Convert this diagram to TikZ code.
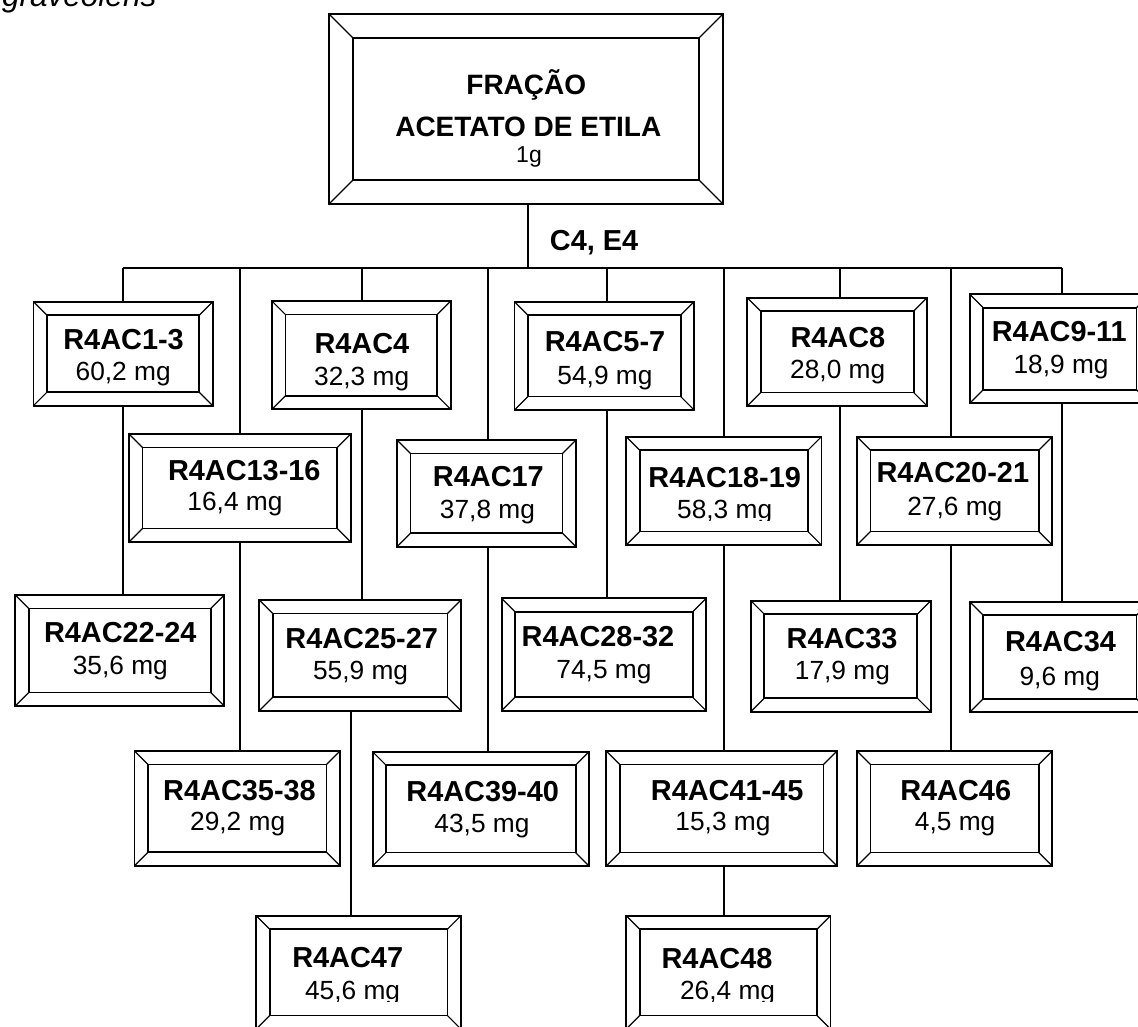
\documentclass[tikz,border=0pt]{standalone}
\usepackage{fontspec}
\setmainfont{Liberation Sans}
\begin{document}
\begin{tikzpicture}[x=1pt,y=-1pt,
  frame/.style={draw, line width=1.8pt, inner sep=0pt, outer sep=0pt},
  bevel/.style={line width=1.2pt},
  link/.style={line width=2pt},
  nm/.style={font=\fontsize{28.9}{30}\selectfont\bfseries, inner sep=0pt, anchor=base},
  ms/.style={font=\fontsize{26.3}{28}\selectfont, inner sep=0pt, anchor=base}]

% page area
\fill[white] (0,0) rectangle (1138,1026);
\useasboundingbox (0,0) rectangle (1138,1026);

% bevelled frame: [bevel] name, x1, y1, x2, y2
\newcommand\bevbox[6][13.5]{%
  \node[frame, minimum width={#5-#3}, minimum height={#6-#4}] (#2) at ({(#3+#5)/2},{(#4+#6)/2}) {};
  \draw[frame] ([shift={(#1,#1)}]#2.north west) rectangle ([shift={(-#1,-#1)}]#2.south east);
  \draw[bevel] (#2.north west) -- ++(#1,#1) (#2.north east) -- ++(-#1,#1)
               (#2.south west) -- ++(#1,-#1) (#2.south east) -- ++(-#1,-#1);
}

% caption fragment
\node[font=\fontsize{31.5}{32}\selectfont\itshape, inner sep=0pt, anchor=base west] (cap) at (2,6) {graveolens};

% root
\bevbox[24]{root}{329}{14}{723}{204}
\node[nm, font=\fontsize{28}{30}\selectfont\bfseries] (root-a) at (526.3,94) {FRAÇÃO};
\node[nm, font=\fontsize{28}{30}\selectfont\bfseries] (root-b) at (528.3,136) {ACETATO DE ETILA};
\node[ms, font=\fontsize{23}{24}\selectfont] (root-c) at (529,162) {1g};

% row 1
\bevbox{b13}{33.4}{301.7}{212.7}{405.7}
\bevbox{b4}{271.9}{301}{450.7}{409.3}
\bevbox{b57}{514.4}{301.7}{694.1}{410}
\bevbox{b8}{747.2}{297.7}{927.1}{406}
\bevbox{b911}{969.7}{294.3}{1150}{403.3}
% row 2
\bevbox{b1316}{129}{434}{350.8}{542}
\bevbox{b17}{397}{440}{576}{546.7}
\bevbox{b1819}{626.2}{436.7}{821.4}{545}
\bevbox{b2021}{857}{436.7}{1052.2}{545}
% row 3
\bevbox{b2224}{15.3}{595}{224.3}{706}
\bevbox{b2527}{259.2}{600}{460.9}{710.7}
\bevbox{b2832}{501.6}{598.3}{706.1}{710.7}
\bevbox{b33}{750.8}{600.7}{930.8}{711.7}
\bevbox{b34}{969.7}{601.7}{1150}{712.3}
% row 4
\bevbox{b3538}{134.5}{751}{339.9}{865.7}
\bevbox{b3940}{372.6}{751.7}{589.1}{866}
\bevbox{b4145}{606.2}{751}{837}{866}
\bevbox{b46}{857}{751}{1052.2}{866}
% row 5
\bevbox{b47}{256.3}{915.7}{460.9}{1029}
\bevbox{b48}{626.2}{915.7}{830.5}{1029}

% labels
\node[nm] (b13-n) at (123.6,349.3) {R4AC1-3};   \node[ms] (b13-m) at (123.2,380) {60,2 mg};
\node[nm] (b4-n) at (361.9,353.3) {R4AC4};      \node[ms] (b4-m) at (361.7,385) {32,3 mg};
\node[nm] (b57-n) at (605,351.7) {R4AC5-7};     \node[ms] (b57-m) at (605,384) {54,9 mg};
\node[nm] (b8-n) at (837.9,347.3) {R4AC8};      \node[ms] (b8-m) at (837.7,378.3) {28,0 mg};
\node[nm] (b911-n) at (1059.3,341.7) {R4AC9-11}; \node[ms] (b911-m) at (1061.1,373.3) {18,9 mg};

\node[nm] (b1316-n) at (244.3,480) {R4AC13-16}; \node[ms] (b1316-m) at (235,510.7) {16,4 mg};
\node[nm] (b17-n) at (488.4,486.7) {R4AC17};    \node[ms] (b17-m) at (487.5,518.3) {37,8 mg};
\node[nm] (b1819-n) at (724.7,487.3) {R4AC18-19};
\begin{scope}
  \clip (640,495) rectangle (808,520.5);
  \node[ms] (b1819-m) at (724.7,518.3) {58,3 mg};
\end{scope}
\node[nm] (b2021-n) at (952.8,482.7) {R4AC20-21}; \node[ms] (b2021-m) at (954.8,515) {27,6 mg};

\node[nm] (b2224-n) at (120.3,642.7) {R4AC22-24}; \node[ms] (b2224-m) at (120.3,674) {35,6 mg};
\node[nm] (b2527-n) at (361.7,648.3) {R4AC25-27}; \node[ms] (b2527-m) at (360.6,679.3) {55,9 mg};
\node[nm] (b2832-n) at (598,646.7) {R4AC28-32};   \node[ms] (b2832-m) at (604,678.3) {74,5 mg};
\node[nm] (b33-n) at (842.1,648.3) {R4AC33};      \node[ms] (b33-m) at (842.4,679.3) {17,9 mg};
\node[nm] (b34-n) at (1060.5,651.7) {R4AC34};     \node[ms] (b34-m) at (1059.8,685) {9,6 mg};

\node[nm] (b3538-n) at (239.5,800) {R4AC35-38};   \node[ms] (b3538-m) at (237.7,830.7) {29,2 mg};
\node[nm] (b3940-n) at (482.7,801.7) {R4AC39-40}; \node[ms] (b3940-m) at (482,832.7) {43,5 mg};
\node[nm] (b4145-n) at (727.2,800) {R4AC41-45};   \node[ms] (b4145-m) at (723,830.7) {15,3 mg};
\node[nm] (b46-n) at (955.7,800) {R4AC46};        \node[ms] (b46-m) at (955.1,830.7) {4,5 mg};

\node[nm] (b47-n) at (347.7,967.3) {R4AC47};
\node[nm] (b48-n) at (717,968.3) {R4AC48};
\begin{scope}
  \clip (270,975) rectangle (446,1001.5);
  \node[ms] (b47-m) at (352.6,999.3) {45,6 mg};
\end{scope}
\begin{scope}
  \clip (640,975) rectangle (817,1001.5);
  \node[ms] (b48-m) at (727.6,999.3) {26,4 mg};
\end{scope}

% distribution line
\coordinate (top) at (528,268);
\coordinate (busL) at (123,268);
\coordinate (busR) at (1062,268);
\coordinate (d1) at (123,268);
\coordinate (d2) at (240,268);
\coordinate (d3) at (362,268);
\coordinate (d4) at (488,268);
\coordinate (d5) at (607,268);
\coordinate (d6) at (724,268);
\coordinate (d7) at (840,268);
\coordinate (d8) at (951,268);
\coordinate (d9) at (1062,268);
\coordinate (d10) at (351,268);

\draw[link] (top |- root.south) -- (top);
\draw[link] (busL) -- (busR);
\node[nm, anchor=base west] (cond) at (549.7,250) {C4, E4};

\draw[link] (d1) -- (d1 |- b13.north);
\draw[link] (d1 |- b13.south) -- (d1 |- b2224.north);
\draw[link] (d2) -- (d2 |- b1316.north);
\draw[link] (d2 |- b1316.south) -- (d2 |- b3538.north);
\draw[link] (d3) -- (d3 |- b4.north);
\draw[link] (d3 |- b4.south) -- (d3 |- b2527.north);
\draw[link] (d10 |- b2527.south) -- (d10 |- b47.north);
\draw[link] (d4) -- (d4 |- b17.north);
\draw[link] (d4 |- b17.south) -- (d4 |- b3940.north);
\draw[link] (d5) -- (d5 |- b57.north);
\draw[link] (d5 |- b57.south) -- (d5 |- b2832.north);
\draw[link] (d6) -- (d6 |- b1819.north);
\draw[link] (d6 |- b1819.south) -- (d6 |- b4145.north);
\draw[link] (d6 |- b4145.south) -- (d6 |- b48.north);
\draw[link] (d7) -- (d7 |- b8.north);
\draw[link] (d7 |- b8.south) -- (d7 |- b33.north);
\draw[link] (d8) -- (d8 |- b2021.north);
\draw[link] (d8 |- b2021.south) -- (d8 |- b46.north);
\draw[link] (d9) -- (d9 |- b911.north);
\draw[link] (d9 |- b911.south) -- (d9 |- b34.north);
\end{tikzpicture}
\end{document}
